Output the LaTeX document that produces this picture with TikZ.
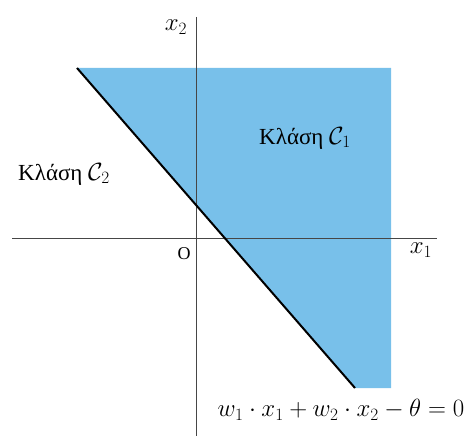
\documentclass[tikz,border=0pt]{standalone}
\usepackage{fontspec}
\setmainfont{Liberation Serif}
\definecolor{classblue}{RGB}{120,192,234}
\definecolor{axisgray}{RGB}{70,70,70}
\tikzset{
	axis/.style={draw=axisgray, line width=1pt},
	boundary/.style={draw=black, line width=2pt},
	lbl/.style={inner sep=0pt, font=\fontsize{23}{27}\selectfont},
}
\begin{document}
\begin{tikzpicture}[x=1pt, y=-1pt]
		\useasboundingbox (0, 0) rectangle (467, 436);
		% corners of the shaded region
		\coordinate (tl) at (77, 68);
		\coordinate (tr) at (391, 68);
		\coordinate (br) at (391, 388);
		\coordinate (bl) at (355, 388);
		\fill[classblue] (tl) -- (tr) -- (br) -- (bl) -- cycle;
		% axes
		\coordinate (xl) at (12, 239);
		\coordinate (xr) at (437, 239);
		\coordinate (yt) at (196, 17);
		\coordinate (yb) at (196, 436);
		\draw[axis] (xl) -- (xr);
		\draw[axis] (yt) -- (yb);
		\draw[boundary] (tl) -- (bl);
		\node[lbl] (xtwo) at (176, 27) {$x_2$};
		\node[lbl] (xone) at (421, 250) {$x_1$};
		\node[lbl, font=\fontsize{18}{22}\selectfont] (orig) at (184, 254) {O};
		\node[lbl] (cone) at (305, 138) {Κλάση $\mathcal{C}_1$};
		\node[lbl] (ctwo) at (64, 174) {Κλάση $\mathcal{C}_2$};
		\node[inner sep=0pt, font=\fontsize{26}{30}\selectfont] (eqn) at (341, 410) {$w_1\cdot x_1 + w_2\cdot x_2 - \theta = 0$};
	\end{tikzpicture}
\end{document}
